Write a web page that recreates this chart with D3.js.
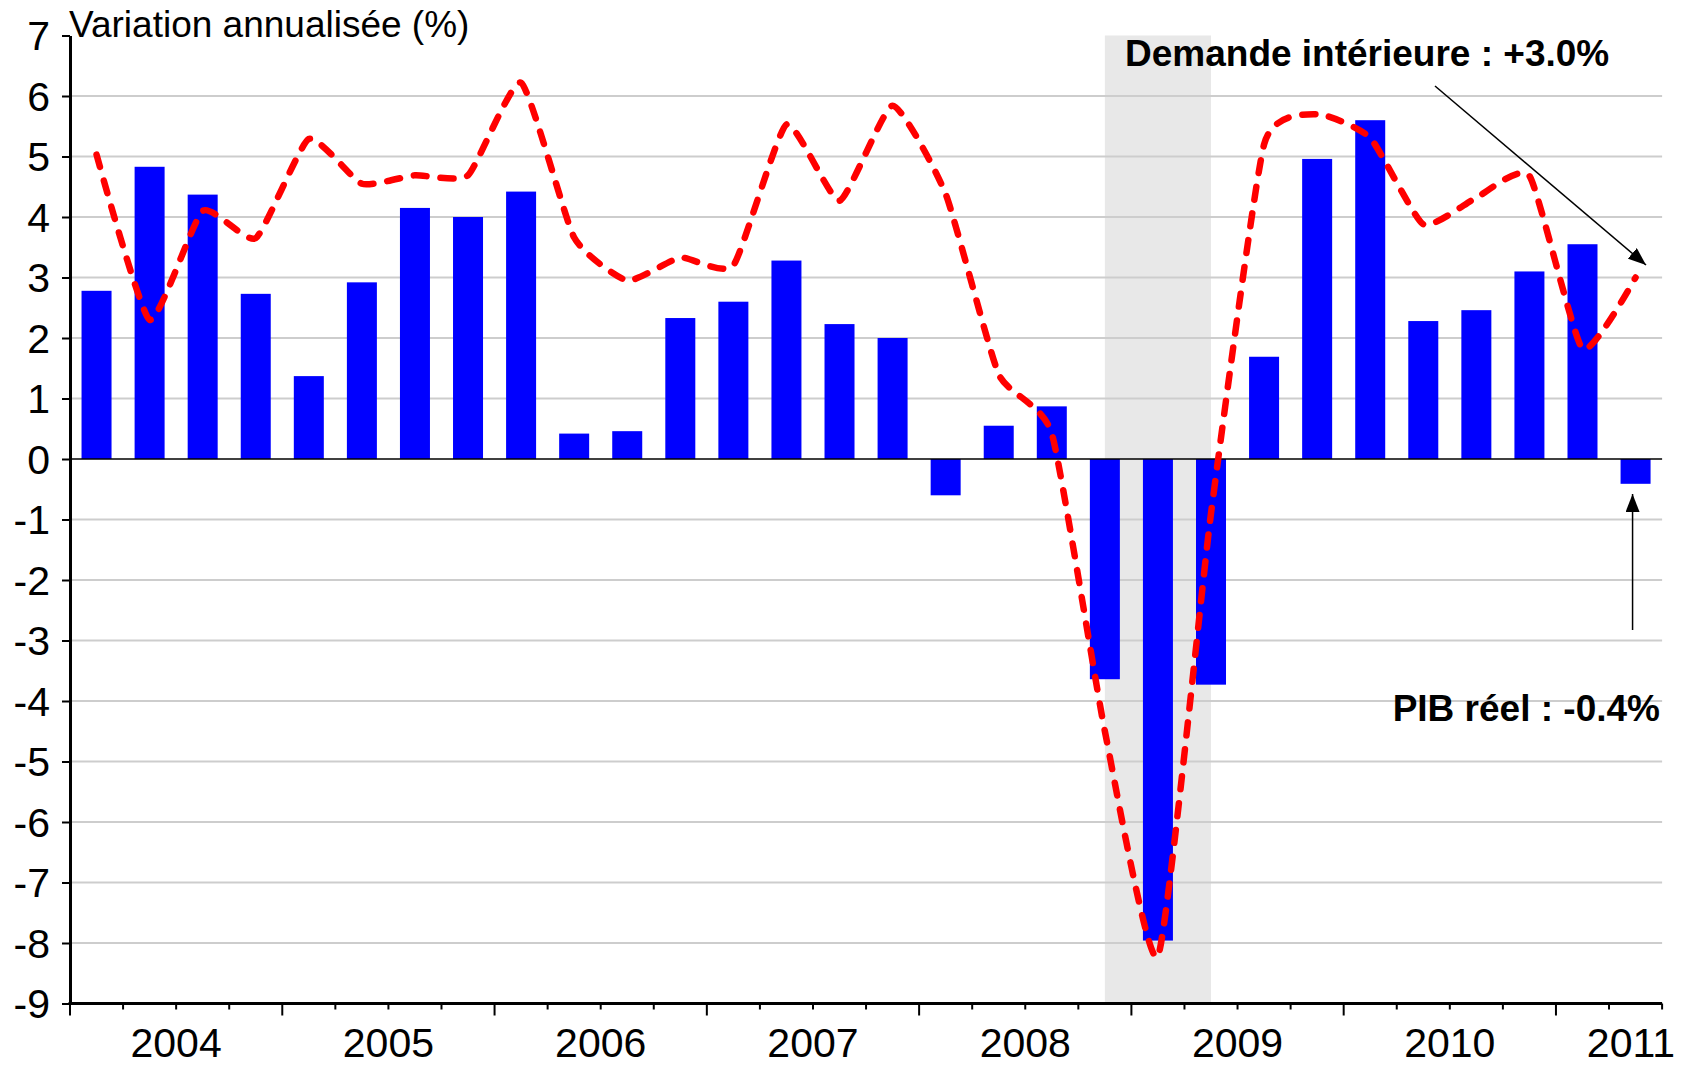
<!DOCTYPE html>
<html><head><meta charset="utf-8">
<script src="https://cdn.jsdelivr.net/npm/d3@7"></script>
<style>
body{margin:0;background:#fff}
svg{display:block}
text{font-family:"Liberation Sans",Arial,Helvetica,sans-serif;fill:#000}
</style>
</head><body>
<svg id="chart" width="1688" height="1066"></svg>
<script>
// ---------- DATA ----------
const years = ["2004","2005","2006","2007","2008","2009","2010","2011"];
const quarters = [
  "2004T1","2004T2","2004T3","2004T4",
  "2005T1","2005T2","2005T3","2005T4",
  "2006T1","2006T2","2006T3","2006T4",
  "2007T1","2007T2","2007T3","2007T4",
  "2008T1","2008T2","2008T3","2008T4",
  "2009T1","2009T2","2009T3","2009T4",
  "2010T1","2010T2","2010T3","2010T4",
  "2011T1","2011T2"
];
// PIB réel (barres), variation annualisée %
const pibReel = [
  2.78, 4.83, 4.37, 2.73,
  1.37, 2.92, 4.15, 4.00,
  4.42, 0.42, 0.46, 2.33,
  2.60, 3.28, 2.23, 2.00,
  -0.60, 0.55, 0.87, -3.64,
  -7.96, -3.73, 1.69, 4.96,
  5.60, 2.28, 2.46, 3.10,
  3.55, -0.41
];
// Demande intérieure (ligne pointillée)
const demandeInterieure = [
  5.03, 2.30, 4.10, 3.65,
  5.29, 4.55, 4.69, 4.69,
  6.22, 3.66, 2.95, 3.33,
  3.20, 5.53, 4.27, 5.84,
  4.38, 1.40, 0.42, -4.50,
  -8.22, -0.90, 5.20, 5.70,
  5.31, 3.88, 4.32, 4.68,
  1.82, 3.00
];
const yTicks = [-9,-8,-7,-6,-5,-4,-3,-2,-1,0,1,2,3,4,5,6,7];
const recession = ["2008T4","2009T2"];
const yTitle = "Variation annualisée (%)";
const labelDemande = "Demande intérieure : +3.0%";
const labelPib = "PIB réel : -0.4%";

// ---------- LAYOUT ----------
(function draw() {
const W = 1688, H = 1066;
const pLeft = 70, pRight = 1662.1, pTop = 35.5, pBottom = 1003.5;
const FONT = '"Liberation Sans",Arial,Helvetica,sans-serif';

const svg = d3.select("#chart");
const x = d3.scaleBand().domain(quarters).range([pLeft, pRight]).padding(0);
const cx = q => x(q) + x.bandwidth() / 2;
const y = d3.scaleLinear().domain([-9, 7]).range([pBottom, pTop]);
const barW = 30;

// recession shading
svg.append("rect")
  .attr("x", cx(recession[0]))
  .attr("y", y(7))
  .attr("width", cx(recession[1]) - cx(recession[0]))
  .attr("height", y(-9) - y(7))
  .attr("fill", "#e8e8e8");

// gridlines
svg.append("g").selectAll("line")
  .data(yTicks.filter(t => t !== 0 && t !== -9 && t !== 7))
  .join("line")
  .attr("x1", pLeft).attr("x2", pRight)
  .attr("y1", d => y(d)).attr("y2", d => y(d))
  .attr("stroke", "#cdcdcd").attr("stroke-width", 2);

// bars
svg.append("g").selectAll("rect")
  .data(quarters.map((q, i) => ({q, v: pibReel[i]})))
  .join("rect")
  .attr("x", d => cx(d.q) - barW / 2)
  .attr("width", barW)
  .attr("y", d => y(Math.max(0, d.v)))
  .attr("height", d => Math.abs(y(d.v) - y(0)))
  .attr("fill", "#0000ff");

// zero line
svg.append("line")
  .attr("x1", pLeft).attr("x2", pRight)
  .attr("y1", y(0)).attr("y2", y(0))
  .attr("stroke", "#000").attr("stroke-width", 1.5);

// domestic demand line
const line = d3.line()
  .x((d, i) => cx(quarters[i]))
  .y(d => y(d))
  .curve(d3.curveCardinal.tension(0.5));
svg.append("path")
  .datum(demandeInterieure)
  .attr("d", line)
  .attr("fill", "none")
  .attr("stroke", "#ff0000")
  .attr("stroke-width", 6.5)
  .attr("stroke-linecap", "round")
  .attr("stroke-linejoin", "round")
  .attr("stroke-dasharray", "13,14");

// y axis
const yAxis = svg.append("g")
  .attr("transform", `translate(${pLeft},0)`)
  .call(d3.axisLeft(y).tickValues(yTicks).tickSize(8).tickSizeOuter(0).tickPadding(12).tickFormat(d => String(d)));
yAxis.select(".domain").attr("stroke", "#000").attr("stroke-width", 3);
yAxis.selectAll(".tick line").attr("stroke", "#000").attr("stroke-width", 2);
yAxis.selectAll(".tick text").attr("font-family", FONT).attr("font-size", 41).attr("fill", "#000").attr("dy", "0.35em");

// x axis line and ticks
svg.append("line")
  .attr("x1", pLeft - 1.5).attr("x2", pRight)
  .attr("y1", pBottom).attr("y2", pBottom)
  .attr("stroke", "#000").attr("stroke-width", 3);
const boundaries = quarters.map(q => x(q)).concat([pRight]);
svg.append("g").selectAll("line")
  .data(boundaries.map((b, i) => ({b, major: i % 4 === 0})))
  .join("line")
  .attr("x1", d => d.b).attr("x2", d => d.b)
  .attr("y1", pBottom).attr("y2", d => pBottom + (d.major ? 12 : 6))
  .attr("stroke", "#000").attr("stroke-width", 2);

// year labels
const yl = svg.append("g").selectAll("text")
  .data(years)
  .join("text")
  .attr("font-family", FONT).attr("font-size", 41)
  .attr("text-anchor", "middle")
  .attr("y", 1057)
  .text(d => d);
yl.each(function(d) {
  const start = x(d + "T1");
  let c = start + 2 * x.step();
  const w = this.getComputedTextLength();
  if (c + w / 2 > W - 13) c = W - 13 - w / 2;
  d3.select(this).attr("x", c);
});

// title
svg.append("text")
  .attr("x", 69).attr("y", 37)
  .attr("font-family", FONT).attr("font-size", 37)
  .text(yTitle);

// annotations
const defs = svg.append("defs");
defs.append("marker")
  .attr("id", "arr")
  .attr("viewBox", "0 0 18 14")
  .attr("refX", 18).attr("refY", 7)
  .attr("markerWidth", 18).attr("markerHeight", 14)
  .attr("markerUnits", "userSpaceOnUse")
  .attr("orient", "auto")
  .append("path").attr("d", "M0,0 L18,7 L0,14 Z").attr("fill", "#000");

svg.append("text")
  .attr("x", 1125).attr("y", 66)
  .attr("font-family", FONT).attr("font-size", 37).attr("font-weight", "bold")
  .text(labelDemande);
svg.append("line")
  .attr("x1", 1435).attr("y1", 86)
  .attr("x2", 1646).attr("y2", 265)
  .attr("stroke", "#000").attr("stroke-width", 1.5)
  .attr("marker-end", "url(#arr)");

svg.append("text")
  .attr("x", 1660).attr("y", 721)
  .attr("text-anchor", "end")
  .attr("font-family", FONT).attr("font-size", 37).attr("font-weight", "bold")
  .text(labelPib);
svg.append("line")
  .attr("x1", cx("2011T2") - 3).attr("y1", 630)
  .attr("x2", cx("2011T2") - 3).attr("y2", 494)
  .attr("stroke", "#000").attr("stroke-width", 1.5)
  .attr("marker-end", "url(#arr)");
})();
</script>
</body></html>
